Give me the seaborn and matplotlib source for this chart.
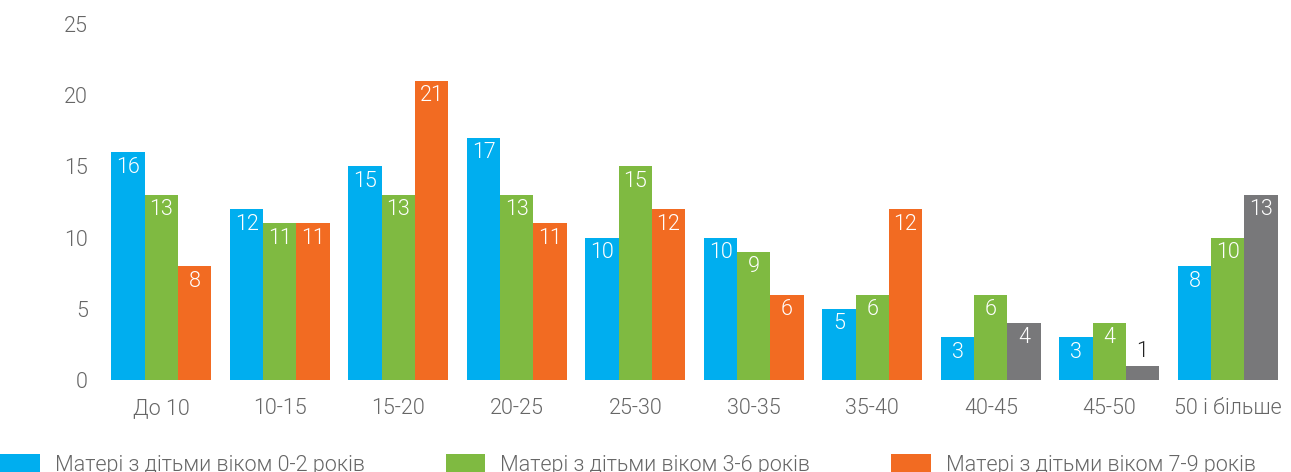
import matplotlib
matplotlib.use("Agg")
import matplotlib.pyplot as plt
import seaborn as sns
import pandas as pd
from matplotlib.patches import Patch

categories = ["До 10", "10-15", "15-20", "20-25", "25-30", "30-35", "35-40", "40-45", "45-50", "50 і більше"]
series_names = ["Матері з дітьми віком 0-2 років",
                "Матері з дітьми віком 3-6 років",
                "Матері з дітьми віком 7-9 років"]
mothers_0_2 = [16, 12, 15, 17, 10, 10, 5, 3, 3, 8]
mothers_3_6 = [13, 11, 13, 13, 15, 9, 6, 6, 4, 10]
mothers_7_9 = [8, 11, 21, 11, 12, 6, 12, 4, 1, 13]
y_ticks = [0, 5, 10, 15, 20, 25]

BLUE, GREEN, ORANGE, GRAY = "#00AEEF", "#7FBA41", "#F26B22", "#78787A"
TEXT = "#666666"
# the last three groups of the third series are drawn in gray
third_colors = [ORANGE] * 7 + [GRAY] * 3

sns.set_theme(style="white")
plt.rcParams["font.family"] = ["Roboto", "DejaVu Sans"]
FS = 15.5
FW = 300

df = pd.DataFrame({
    "category": categories * 3,
    "series": [series_names[0]] * 10 + [series_names[1]] * 10 + [series_names[2]] * 10,
    "value": mothers_0_2 + mothers_3_6 + mothers_7_9,
})

fig = plt.figure(figsize=(12.91, 4.72), dpi=100)
ax = fig.add_axes([102 / 1291, 1 - 380 / 472, (1287 - 102) / 1291, (380 - 24) / 472])

sns.barplot(data=df, x="category", y="value", hue="series", order=categories,
            hue_order=series_names, palette=[BLUE, GREEN, ORANGE],
            width=0.84, saturation=1, gap=0, linewidth=0, ax=ax, legend=False)

for patch, c in zip(ax.containers[2], third_colors):
    patch.set_facecolor(c)

for container in ax.containers:
    for patch in container:
        patch.set_linewidth(0)
        h = patch.get_height()
        x = patch.get_x() + patch.get_width() / 2
        if h >= 2:
            ax.text(x, h - 1.05, f"{int(h)}", ha="center", va="center",
                    color="white", fontsize=FS, fontweight=FW)
        else:
            ax.text(x, h + 1.0, f"{int(h)}", ha="center", va="center",
                    color="#222222", fontsize=FS, fontweight=FW)

ax.set_ylim(0, 25)
ax.set_xlim(-0.5, len(categories) - 0.5)
ax.set_yticks(y_ticks)
ax.set_xlabel("")
ax.set_ylabel("")
ax.tick_params(axis="both", length=0, labelsize=FS, labelcolor=TEXT)
ax.tick_params(axis="y", pad=10)
ax.tick_params(axis="x", pad=13)
for lbl in ax.get_xticklabels() + ax.get_yticklabels():
    lbl.set_fontweight(FW)
sns.despine(ax=ax, left=True, bottom=True)

handles = [Patch(facecolor=c, edgecolor="none") for c in (BLUE, GREEN, ORANGE)]
leg = fig.legend(handles, series_names, loc="center left", ncol=3,
                 bbox_to_anchor=(0.0, 7 / 472), frameon=False,
                 handlelength=1.85, handleheight=0.9, handletextpad=0.7,
                 columnspacing=3.75, borderaxespad=0, borderpad=0,
                 prop={"size": FS, "weight": FW})
for t in leg.get_texts():
    t.set_color(TEXT)

fig.savefig("out.png", dpi=100)
